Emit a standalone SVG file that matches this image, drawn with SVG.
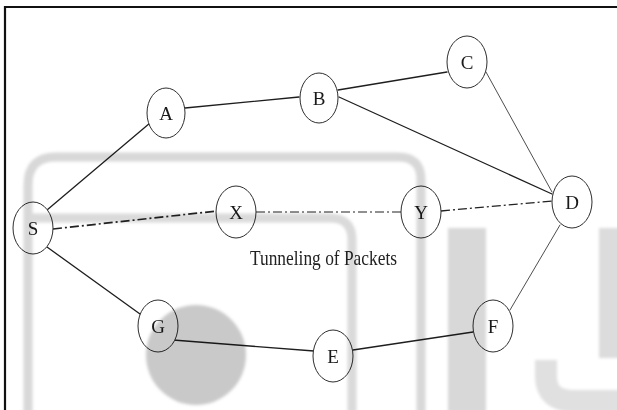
<svg xmlns="http://www.w3.org/2000/svg" width="617" height="410" viewBox="0 0 617 410">
  <style>
    .edge { stroke: #1e1e1e; stroke-width: 1.3; fill: none; stroke-linecap: round; }
    .thin { stroke: #3a3a3a; stroke-width: 0.9; }
    .tunnel { stroke: #222; stroke-width: 1.3; fill: none; stroke-dasharray: 9 3 2 3; }
    .node ellipse { fill: #fff; stroke: #2e2e2e; stroke-width: 1; }
    .node text { font-family: "Liberation Serif", "Times New Roman", serif; font-size: 19px; fill: #1a1a1a; text-anchor: middle; }
    .caption { font-family: "Liberation Serif", "Times New Roman", serif; font-size: 22px; fill: #222; }
    .band { fill: none; stroke: #d8d8d8; stroke-width: 9; }
  </style>
  <defs>
    <filter id="soft" x="-5%" y="-5%" width="110%" height="110%">
      <feGaussianBlur stdDeviation="1.4"/>
    </filter>
  </defs>

  <rect width="617" height="410" fill="#fff"/>

  <!-- frame -->
  <path d="M5,410 V7 H617" fill="none" stroke="#111" stroke-width="2.2"/>

  <!-- links -->
  <g id="connectors">
    <line class="edge" x1="47" y1="210" x2="150" y2="123"/>
    <line class="edge" x1="185" y1="108" x2="299" y2="97"/>
    <line class="edge" x1="338" y1="90" x2="447" y2="72"/>
    <line class="edge" x1="339" y1="97" x2="552" y2="194"/>
    <line class="edge thin" x1="486" y1="72" x2="552" y2="192"/>
    <line class="edge" x1="47" y1="247" x2="140" y2="314"/>
    <line class="edge" x1="173" y1="340" x2="314" y2="351"/>
    <line class="edge" x1="353" y1="350" x2="473" y2="332"/>
    <line class="edge thin" x1="510" y1="310" x2="560" y2="225"/>
    <line class="tunnel" x1="53" y1="229" x2="217" y2="211" style="stroke-width:1.7"/>
    <line class="tunnel" x1="256" y1="212" x2="401" y2="212" style="stroke-width:1.1"/>
    <line class="tunnel" x1="441" y1="211" x2="552" y2="201"/>
  </g>

  <g id="node-S" class="node"><ellipse cx="33" cy="228" rx="20" ry="26"/><text x="33" y="235">S</text></g>
  <g id="node-A" class="node"><ellipse cx="166" cy="113" rx="19" ry="25"/><text x="166" y="120">A</text></g>
  <g id="node-B" class="node"><ellipse cx="319" cy="98" rx="19" ry="25"/><text x="319" y="105">B</text></g>
  <g id="node-C" class="node"><ellipse cx="467" cy="62" rx="20" ry="26"/><text x="467" y="69">C</text></g>
  <g id="node-X" class="node"><ellipse cx="236" cy="212" rx="20" ry="26"/><text x="236" y="219">X</text></g>
  <g id="node-Y" class="node"><ellipse cx="421" cy="212" rx="20" ry="26"/><text x="421" y="219">Y</text></g>
  <g id="node-D" class="node"><ellipse cx="572" cy="202" rx="20" ry="26"/><text x="572" y="209">D</text></g>
  <g id="node-G" class="node"><ellipse cx="158" cy="326" rx="20" ry="26"/><text x="158" y="333">G</text></g>
  <g id="node-E" class="node"><ellipse cx="333" cy="356" rx="20" ry="26"/><text x="333" y="363">E</text></g>
  <g id="node-F" class="node"><ellipse cx="493" cy="326" rx="20" ry="26"/><text x="493" y="333">F</text></g>

  <text class="caption" x="250" y="265" textLength="147" lengthAdjust="spacingAndGlyphs">Tunneling of Packets</text>

  <!-- grey backdrop shapes, multiplied over the drawing -->
  <g style="mix-blend-mode:multiply" filter="url(#soft)">
    <path class="band" d="M28,412 V185 Q28,157 56,157 H398 Q421,157 421,180 V412"/>
    <path class="band" d="M30,218 H330 Q352,218 352,240 V412" style="stroke:#dadada"/>
    <rect x="448" y="228" width="38" height="184" fill="#d8d8d8"/>
    <rect x="599" y="228" width="22" height="130" fill="#dcdcdc"/>
    <path d="M546,360 V376 Q546,401 574,401 H622" fill="none" stroke="#e0e0e0" stroke-width="22"/>
    <circle cx="196" cy="355" r="50" fill="#c9c9c9"/>
  </g>
</svg>
